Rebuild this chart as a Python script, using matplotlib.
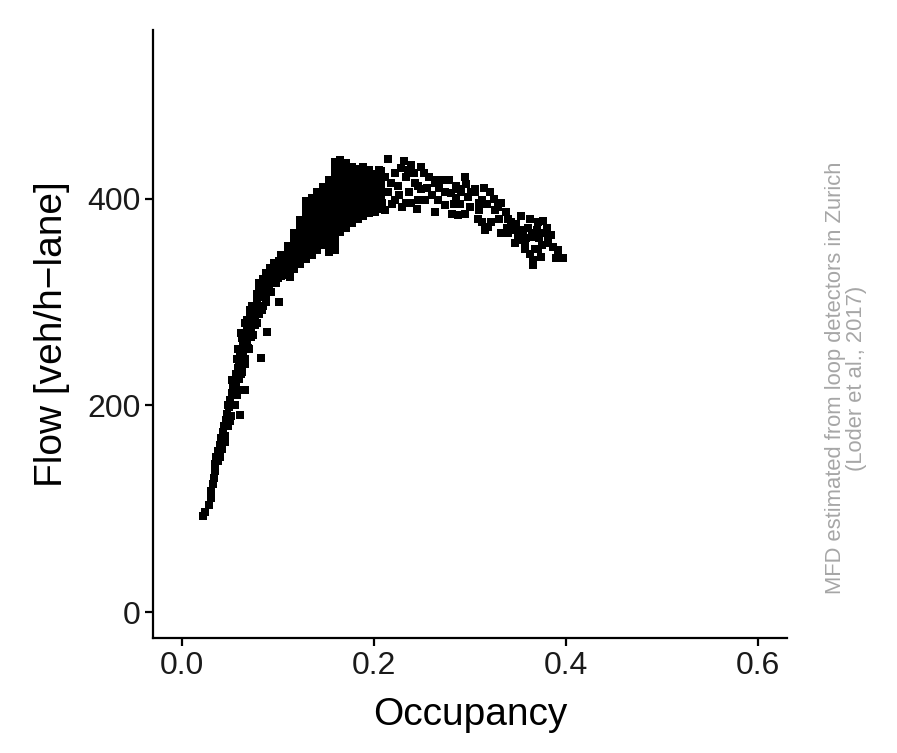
import numpy as np
import matplotlib.pyplot as plt

plt.rcParams['font.family'] = ['Liberation Sans', 'DejaVu Sans']

# rising branch (low occupancy)
rise_occ = [0.022, 0.024, 0.028, 0.030, 0.030, 0.032, 0.033, 0.034, 0.035, 0.036,
            0.038, 0.038, 0.040, 0.041, 0.042, 0.043, 0.044, 0.045, 0.046, 0.047,
            0.048, 0.049, 0.050, 0.051, 0.052, 0.053, 0.054, 0.055, 0.056, 0.057,
            0.058, 0.059, 0.060, 0.061, 0.062, 0.063, 0.064, 0.065, 0.066, 0.067,
            0.068, 0.069, 0.070, 0.071, 0.072, 0.074, 0.075, 0.076, 0.078, 0.079,
            0.080, 0.082, 0.083, 0.084, 0.086, 0.087, 0.088, 0.090, 0.091, 0.092,
            0.094, 0.095, 0.097, 0.098, 0.100, 0.101, 0.103,
            0.061, 0.066, 0.082, 0.089, 0.101, 0.113, 0.072, 0.080,
            0.040, 0.045, 0.050, 0.055, 0.058, 0.062, 0.066, 0.070, 0.074, 0.078,
            0.083, 0.088, 0.093, 0.098, 0.103, 0.108,
            0.052, 0.057, 0.063, 0.068, 0.073, 0.078, 0.085, 0.092,
            0.048, 0.052, 0.056, 0.060, 0.064, 0.068, 0.072, 0.076, 0.080, 0.085,
            0.090, 0.095, 0.100, 0.106, 0.112,
            0.058, 0.062, 0.066, 0.071, 0.080, 0.088, 0.096, 0.103, 0.110]
rise_flow = [93, 97, 104, 110, 117, 124, 130, 137, 143, 150,
             146, 156, 162, 168, 158, 174, 180, 170, 186, 192,
             180, 198, 205, 190, 212, 218, 200, 224, 230, 210,
             236, 242, 226, 248, 254, 232, 260, 265, 245, 270,
             275, 256, 280, 286, 266, 290, 296, 278, 300, 305,
             288, 308, 313, 296, 316, 321, 305, 323, 314, 328,
             320, 332, 326, 336, 330, 340, 334,
             191, 215, 246, 271, 300, 324, 292, 318,
             150, 165, 185, 200, 215, 230, 240, 255, 268, 280,
             292, 300, 310, 318, 325, 330,
             225, 245, 265, 283, 296, 308, 322, 333,
             200, 212, 222, 238, 250, 262, 275, 285, 295, 305,
             312, 320, 323, 328, 332,
             255, 270, 280, 292, 315, 328, 338, 345, 352]

# dense cloud around the peak: occupancy columns and the flows seen in each
peak_occ = [0.105, 0.111, 0.117, 0.123, 0.129, 0.135, 0.141, 0.147, 0.153,
            0.159, 0.165, 0.171, 0.177, 0.183, 0.189, 0.195, 0.201, 0.207]
peak_flow = [
    [330, 337, 344],
    [326, 333, 340, 347, 354],
    [332, 339, 346, 353, 360, 367],
    [337, 344, 351, 358, 365, 372, 379],
    [342, 349, 356, 363, 370, 377, 384, 391, 398],
    [345, 352, 359, 366, 373, 380, 387, 394, 401],
    [350, 357, 364, 371, 378, 385, 392, 399, 406],
    [355, 362, 369, 376, 383, 390, 397, 404, 411],
    [348, 355, 362, 369, 376, 383, 390, 397, 404, 411, 418],
    [350, 358, 366, 373, 380, 387, 394, 401, 408, 415, 422, 429, 435],
    [368, 375, 382, 389, 396, 403, 410, 417, 424, 431, 437],
    [372, 379, 386, 393, 400, 407, 414, 421, 428, 434],
    [376, 383, 390, 397, 404, 411, 418, 425, 431],
    [380, 387, 394, 401, 408, 415, 422, 429],
    [383, 390, 397, 404, 411, 418, 425, 431],
    [386, 393, 400, 407, 414, 421, 428],
    [389, 396, 403, 410, 417, 424],
    [390, 398, 405, 412, 420, 427],
]

# congested branch (high occupancy)
fall_occ = [0.215, 0.231, 0.239, 0.249, 0.295, 0.205, 0.212, 0.222, 0.233, 0.243,
            0.257, 0.264, 0.270, 0.225, 0.215, 0.236, 0.249, 0.274, 0.285, 0.291,
            0.305, 0.208, 0.222, 0.239, 0.253, 0.267, 0.285, 0.298, 0.312, 0.212,
            0.229, 0.264, 0.281, 0.295, 0.274, 0.309, 0.312, 0.316,
            0.305, 0.321, 0.309, 0.326, 0.329, 0.337, 0.322, 0.332, 0.343, 0.353,
            0.352, 0.347, 0.357, 0.364, 0.371, 0.376, 0.378, 0.381, 0.368, 0.357,
            0.366, 0.366, 0.389, 0.397, 0.374, 0.350, 0.332,
            0.201, 0.205, 0.233, 0.246, 0.246, 0.264, 0.288, 0.301, 0.319, 0.340,
            0.350, 0.364, 0.381, 0.371, 0.395,
            0.218, 0.228, 0.219, 0.226, 0.242, 0.255, 0.260, 0.245, 0.278, 0.283,
            0.296, 0.318, 0.325, 0.315, 0.340, 0.345, 0.360, 0.362, 0.355, 0.372,
            0.386, 0.375, 0.362, 0.380, 0.287,
            0.235, 0.252, 0.268, 0.280, 0.290, 0.300, 0.308, 0.330, 0.338, 0.348,
            0.358, 0.370, 0.384, 0.392]
fall_flow = [438, 436, 433, 431, 421, 428, 421, 425, 421, 415,
             421, 415, 418, 412, 406, 406, 409, 406, 412, 406,
             409, 396, 399, 396, 399, 399, 401, 402, 399, 389,
             392, 387, 385, 385, 394, 389, 377, 370,
             406, 406, 396, 389, 392, 387, 377, 367, 377, 383,
             370, 357, 357, 363, 377, 378, 367, 357, 351, 351,
             341, 336, 343, 343, 344, 363, 396,
             387, 391, 396, 399, 412, 418, 409, 406, 373, 367,
             360, 367, 360, 351, 343,
             415, 430, 395, 404, 425, 410, 404, 390, 418, 395,
             414, 395, 400, 410, 380, 370, 372, 380, 365, 362,
             353, 355, 346, 372, 384,
             428, 425, 410, 405, 395, 392, 380, 380, 372, 375,
             362, 370, 365, 350]

occ = list(rise_occ) + list(fall_occ)
flow = list(rise_flow) + list(fall_flow)
for x, ys in zip(peak_occ, peak_flow):
    occ += [x] * len(ys)
    flow += ys

fig = plt.figure(figsize=(8.97, 7.53), dpi=100)
ax = fig.add_axes([0.1706, 0.1527, 0.7068, 0.8073])

ax.scatter(occ, flow, marker='s', s=34, color='black', linewidths=0)

ax.set_xlim(-0.03, 0.63)
ax.set_ylim(-25, 563)
ax.set_xticks([0.0, 0.2, 0.4, 0.6])
ax.set_xticklabels(['0.0', '0.2', '0.4', '0.6'])
ax.set_yticks([0, 200, 400])

for side in ['top', 'right']:
    ax.spines[side].set_visible(False)
for side in ['left', 'bottom']:
    ax.spines[side].set_linewidth(1.6)
ax.tick_params(direction='out', length=6, width=1.6, labelsize=23,
               labelcolor='#1a1a1a', pad=3)

ax.set_xlabel('Occupancy', fontsize=28, labelpad=12)
ax.set_ylabel('Flow [veh/h\u2212lane]', fontsize=28, labelpad=12)

fig.text(0.943, 0.498, 'MFD estimated from loop detectors in Zurich\n(Loder et al., 2017)',
         rotation=90, ha='center', va='center', multialignment='center',
         fontsize=15.8, color='#a6a6a6', linespacing=1.0)

fig.savefig('out.png', dpi=100)
